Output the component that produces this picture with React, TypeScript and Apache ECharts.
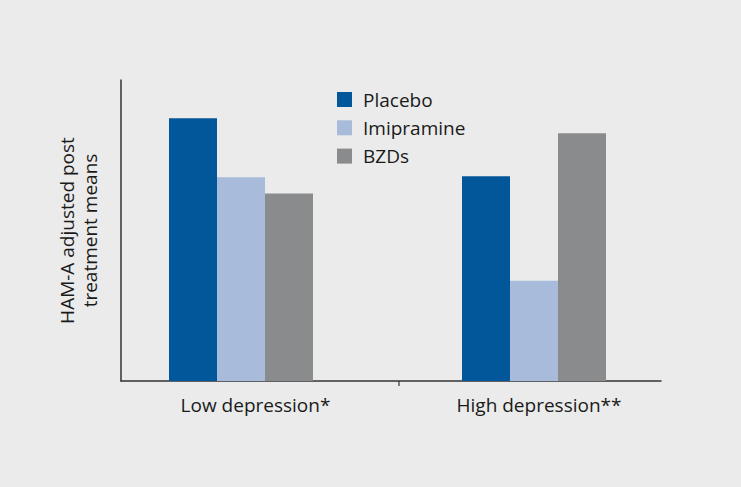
import React, { useEffect, useRef } from "react";
import * as echarts from "echarts";

const categories = ["Low depression*", "High depression**"];
const placebo = [26.2, 20.4];
const imipramine = [20.3, 10.0];
const bzds = [18.7, 24.7];
const seriesNames = ["Placebo", "Imipramine", "BZDs"];
const yTitle = "HAM-A adjusted post\ntreatment means";

const FONT = "Open Sans";
const TEXT = "#1a1a1a";

export default function App() {
  const ref = useRef<HTMLDivElement>(null);
  useEffect(() => {
    if (!ref.current) return;
    const chart = echarts.init(ref.current, null, { renderer: "svg" });
    const mk = (name: string, data: number[], color: string) => ({
      name,
      type: "bar",
      xAxisIndex: 0,
      yAxisIndex: 0,
      data,
      barWidth: 48,
      barGap: "0%",
      itemStyle: { color },
    });
    chart.setOption({
      animation: false,
      backgroundColor: "#ebebeb",
      textStyle: { fontFamily: FONT },
      grid: [
        { left: 94.5, right: 60.5, top: 80, bottom: 106 },
        { left: 121, right: 80, top: 80, bottom: 106 },
      ],
      legend: {
        orient: "vertical",
        left: 337,
        top: 90,
        padding: 0,
        itemWidth: 15,
        itemHeight: 15,
        itemGap: 9.3,
        icon: "rect",
        data: seriesNames,
        textStyle: { fontFamily: FONT, fontSize: 19, color: TEXT, padding: [0, 0, 0, 6] },
      },
      xAxis: [
        {
          type: "category",
          gridIndex: 0,
          data: [
            { value: categories[0], textStyle: { padding: [0, 0, 0, 29] } },
            { value: categories[1], textStyle: { padding: [0, 0, 0, 10] } },
          ],
          axisLine: { show: false },
          axisTick: { show: false },
          axisLabel: { fontFamily: FONT, fontSize: 19, color: TEXT, margin: 14 },
        },
        {
          type: "value",
          gridIndex: 1,
          min: 0,
          max: 1,
          axisLine: { show: true, lineStyle: { color: "#333", width: 1.5 } },
          axisTick: { show: false },
          axisLabel: { show: false },
          splitLine: { show: false },
        },
      ],
      yAxis: [
        {
          type: "value",
          gridIndex: 0,
          min: 0,
          max: 30,
          show: false,
        },
        {
          type: "value",
          gridIndex: 1,
          min: 0,
          max: 1,
          axisLine: { show: true, lineStyle: { color: "#333", width: 1.5 } },
          axisTick: { show: false },
          axisLabel: { show: false },
          splitLine: { show: false },
          name: yTitle,
          nameLocation: "middle",
          nameRotate: 90,
          nameGap: 20,
          nameTextStyle: { fontFamily: FONT, fontSize: 19, color: TEXT, lineHeight: 23 },
        },
      ],
      graphic: [
        {
          type: "line",
          shape: { x1: 399, y1: 381, x2: 399, y2: 386 },
          style: { stroke: "#333", lineWidth: 1.2 },
        },
      ],
      series: [
        mk(seriesNames[0], placebo, "#02569a"),
        mk(seriesNames[1], imipramine, "#a9bbdb"),
        mk(seriesNames[2], bzds, "#8a8b8d"),
      ],
    });
    return () => chart.dispose();
  }, []);
  return (
    <div
      ref={ref}
      style={{ position: "fixed", left: 0, top: 0, width: 741, height: 487 }}
    />
  );
}
